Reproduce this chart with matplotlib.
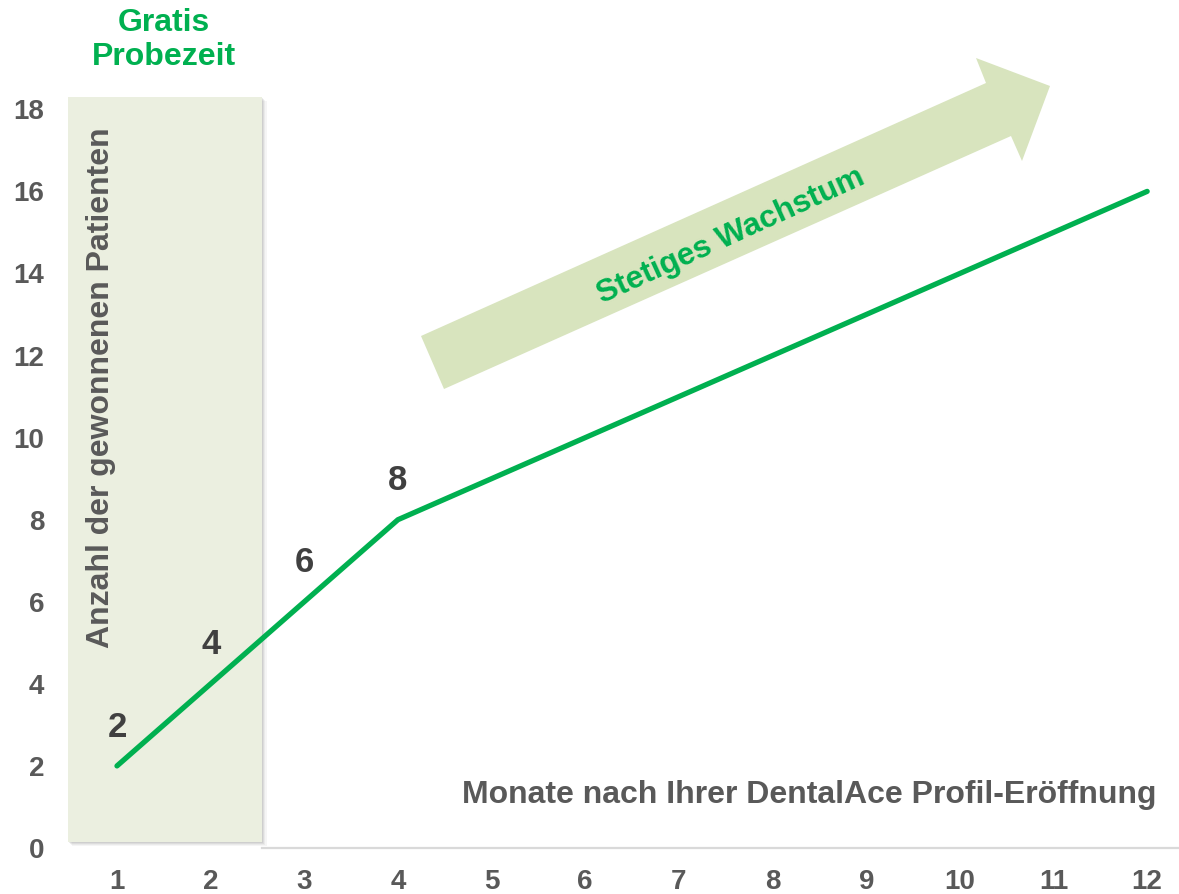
import matplotlib
matplotlib.use("Agg")
import matplotlib.pyplot as plt
from matplotlib.patches import Rectangle, Polygon
import matplotlib.patheffects as pe

plt.rcParams['font.family'] = ['Liberation Sans', 'DejaVu Sans']
plt.rcParams['font.weight'] = 'bold'

# ---- data ----
months = [1, 2, 3, 4, 5, 6, 7, 8, 9, 10, 11, 12]
patients = [2, 4, 6, 8, 9, 10, 11, 12, 13, 14, 15, 16]
labelled_points = 4          # first four points carry value labels
y_ticks = [0, 2, 4, 6, 8, 10, 12, 14, 16, 18]
trial_months = (0.477, 2.55)  # shaded free-trial band
x_title = "Monate nach Ihrer DentalAce Profil-Eröffnung"
y_title = "Anzahl der gewonnenen Patienten"
band_title = "Gratis\nProbezeit"
arrow_text = "Stetiges Wachstum"

GREEN = "#00B050"
GRAY = "#595959"
DARK = "#404040"

W, H = 1179, 894
fig = plt.figure(figsize=(W / 100, H / 100), dpi=100)
ax = fig.add_axes([68 / W, 46 / H, (W - 68) / W, (848 - 97) / H])
ax.set_xlim(0.477, 12.34)
ax.set_ylim(0, 18.3)

# free-trial band with soft shadow
shadow_fx = [pe.SimplePatchShadow(offset=(o, -o), shadow_rgbFace="#8a8a8a", alpha=a)
             for o, a in [(3.2, 0.08), (2.4, 0.10), (1.6, 0.14), (0.8, 0.16)]]
band = Rectangle((trial_months[0], 0.15), trial_months[1] - trial_months[0], 18.3 - 0.15,
                 facecolor="#EBEFE0", edgecolor="none", zorder=1,
                 path_effects=shadow_fx + [pe.Normal()])
ax.add_patch(band)

# axes styling
for s in ["top", "right", "left"]:
    ax.spines[s].set_visible(False)
ax.spines["bottom"].set_color("#D9D9D9")
ax.spines["bottom"].set_linewidth(1.6)
ax.spines["bottom"].set_bounds(trial_months[1], 12.34)
ax.set_xticks(months)
ax.set_xticklabels([str(m) for m in months])
ax.set_yticks(y_ticks)
ax.set_yticklabels([str(v) for v in y_ticks])
ax.tick_params(axis="both", length=0, labelsize=20, labelcolor=GRAY)
ax.tick_params(axis="x", pad=15)
ax.tick_params(axis="y", pad=17)
for t in ax.get_xticklabels() + ax.get_yticklabels():
    t.set_fontweight("bold")

# growth arrow (decorative, figure pixels)
arrow_px = [(421, 336), (986, 83), (976, 58), (1050, 86), (1022, 161), (1011, 136), (444, 389)]
arrow = Polygon([(x / W, 1 - y / H) for x, y in arrow_px], closed=True,
                transform=fig.transFigure, facecolor="#D8E4BE", edgecolor="none", zorder=0)
fig.patches.append(arrow)
fig.text(731 / W, 1 - 236 / H, arrow_text, rotation=24.5, color=GREEN, fontsize=22.8,
         fontweight="bold", ha="center", va="center", rotation_mode="anchor")

# main line
ax.plot(months, patients, color=GREEN, lw=3.8, solid_capstyle="round", zorder=3)

# value labels
for m, p in zip(months[:labelled_points], patients[:labelled_points]):
    ax.annotate(str(p), (m, p), xytext=(0, 28), textcoords="offset points",
                ha="center", va="center", fontsize=25, fontweight="bold", color=DARK, zorder=4)

# titles
ax.text(12.1, 1.3, x_title, ha="right", va="center", fontsize=23,
        fontweight="bold", color=GRAY, transform=ax.transData)
fig.text(101 / W, 1 - 388 / H, y_title, rotation=90, ha="center", va="center",
         fontsize=23, fontweight="bold", color=GRAY)
fig.text(164 / W, 1 - 40 / H, band_title, ha="center", va="center", fontsize=23,
         fontweight="bold", color=GREEN, linespacing=1.2)

fig.savefig("out.png", dpi=100)
